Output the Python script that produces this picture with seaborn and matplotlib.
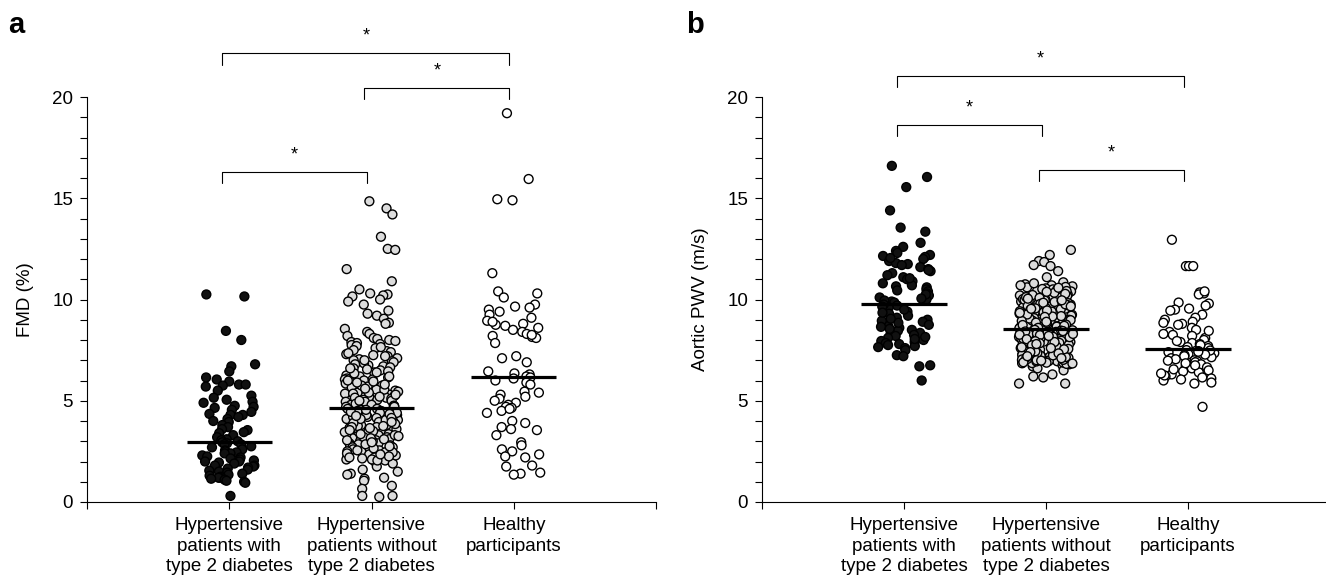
import numpy as np
import pandas as pd
import matplotlib
matplotlib.use("Agg")
import matplotlib.pyplot as plt
from matplotlib.ticker import MultipleLocator, FixedLocator
import seaborn as sns

# --- Data ---
GROUPS = ["Hypertensive\npatients with\ntype 2 diabetes",
          "Hypertensive\npatients without\ntype 2 diabetes",
          "Healthy\nparticipants"]

fmd_diabetes = [
    10.25, 10.15, 8.45, 8.0, 6.8, 6.7, 6.45, 6.15, 6.05, 5.95, 5.8, 5.8, 5.75, 5.7, 5.5,
    5.25, 5.15, 5.05, 4.95, 4.9, 4.75, 4.7, 4.65, 4.55, 4.45, 4.35, 4.3, 4.3, 4.2, 4.1,
    4.0, 3.95, 3.8, 3.7, 3.6, 3.55, 3.45, 3.4, 3.3, 3.2, 3.1, 3.05, 3.0, 2.95,
    2.9, 2.85, 2.85, 2.75, 2.7, 2.6, 2.55, 2.5, 2.45, 2.4, 2.4, 2.3, 2.25, 2.2, 2.15,
    2.1, 2.05, 2.0, 2.0, 1.95, 1.9, 1.8, 1.8, 1.75, 1.7, 1.65, 1.6, 1.55, 1.5, 1.45,
    1.4, 1.35, 1.3, 1.25, 1.2, 1.2, 1.15, 1.1, 1.05, 1.0, 0.95, 0.3]

fmd_no_diabetes = [
    14.85, 14.5, 14.2, 13.1, 12.5, 12.45, 11.5, 10.9, 10.5, 10.3, 10.25, 10.2, 10.15, 10.0,
    9.9, 9.75, 9.45, 9.3, 9.2, 9.05, 8.85, 8.8, 8.55, 8.4, 8.3, 8.2, 8.1, 8.05, 8.0, 7.95,
    7.9, 7.85, 7.8, 7.75, 7.7, 7.6, 7.5, 7.45, 7.4, 7.3, 7.25, 7.2, 7.1, 7.05, 7.0, 6.95,
    6.9, 6.8, 6.75, 6.7, 6.65, 6.6, 6.5, 6.45, 6.4, 6.3, 6.25, 6.2, 6.15, 6.1, 6.05, 6.0,
    5.95, 5.9, 5.85, 5.8, 5.75, 5.7, 5.65, 5.6, 5.55, 5.5, 5.45, 5.4, 5.35, 5.3, 5.25, 5.2,
    5.15, 5.1, 5.05, 5.0, 4.95, 4.9, 4.85, 4.8, 4.75, 4.7,
    7.65, 7.35, 6.85, 6.55, 6.35, 6.05, 5.95, 5.75, 5.55, 5.35, 5.15, 5.05, 4.95, 4.85,
    4.75, 6.2, 6.6, 7.0, 5.9, 5.4, 5.0, 4.8, 4.7, 5.6, 5.2, 6.4, 7.2, 6.0, 5.8, 5.3,
    4.6, 4.55, 4.5, 4.45, 4.4, 4.35, 4.3, 4.25, 4.2, 4.15, 4.1, 4.05, 4.0, 3.95, 3.9, 3.85,
    3.8, 3.75, 3.7, 3.65, 3.6, 3.55, 3.5, 3.45, 3.4, 3.35, 3.3, 3.25, 3.2, 3.15, 3.1, 3.05,
    3.0, 2.95, 2.9, 2.85, 2.8, 2.75, 2.7, 2.65, 2.6, 2.55, 2.5, 2.45, 2.4, 2.35, 2.3, 2.25,
    2.2, 2.15, 2.1, 2.05, 2.0, 1.9, 1.75, 1.6, 1.5, 1.4, 1.35, 1.2, 1.15, 1.05, 0.8, 0.65,
    0.3, 0.25, 0.3,
    4.6, 4.5, 4.4, 4.3, 4.2, 4.1, 4.0, 3.9, 3.8, 3.7, 3.6, 3.5, 3.4, 3.3, 3.2, 3.1, 3.0,
    2.9, 2.8, 2.7, 2.6, 2.5, 2.4, 2.3, 2.2, 2.1, 4.45, 4.25, 4.05, 3.85, 3.65, 3.45, 3.25,
    3.05, 2.85, 2.65, 2.45, 2.25, 2.05, 4.55, 4.35, 4.15, 3.95, 3.75, 3.55, 3.35, 3.15,
    2.95, 2.75, 2.55, 2.35]

fmd_healthy = [
    19.2, 15.95, 14.95, 14.9, 11.3, 10.4, 10.3, 10.1, 9.75, 9.65, 9.5, 9.6, 9.25, 9.1,
    8.95, 8.8, 8.75, 8.7, 8.6, 8.5, 8.4, 8.3, 8.2, 8.15, 8.1, 7.85, 7.2, 7.1, 6.9, 6.45,
    6.35, 6.3, 6.2, 8.9, 8.25, 9.4, 6.15,
    6.1, 6.0, 5.9, 5.8, 5.45, 5.4, 5.3, 5.1, 5.0, 4.9, 4.8, 4.7, 4.65, 4.5, 4.4, 4.0,
    3.7, 3.6, 3.55, 3.3, 2.95, 2.8, 2.6, 2.5, 2.35, 2.25, 2.2, 1.8, 1.75, 1.45, 1.4, 1.35,
    5.2, 4.6, 3.9]

pwv_diabetes = [
    16.6, 16.05, 15.55, 14.4, 13.55, 13.35, 12.8, 12.6, 12.4, 12.3, 12.2, 12.15, 12.1,
    12.0, 11.9, 11.8, 11.75, 11.6, 11.5, 11.4, 11.3, 11.2, 11.1, 11.0, 10.9, 10.8, 10.7,
    10.6, 10.5, 10.4, 10.3, 10.2, 10.1, 10.0, 9.9, 9.85, 11.7, 11.45, 11.05, 10.65, 10.45,
    10.25, 10.05, 9.95, 12.05,
    9.7, 9.6, 9.4, 9.3, 9.2, 9.0, 8.9, 8.8, 8.7, 8.6, 8.5, 8.45, 8.3, 8.2, 8.1, 8.0, 7.9,
    7.8, 7.7, 7.6, 7.5, 7.25, 7.2, 6.75, 6.7, 6.0, 9.75, 9.5, 9.1, 8.95, 8.85, 8.65, 8.55,
    8.35, 8.25, 8.05, 7.95, 7.85, 7.65, 9.65, 9.35, 8.75, 8.15, 7.75, 9.05]

pwv_no_diabetes = [
    12.45, 12.2, 11.9, 11.85, 11.7, 11.65, 11.4, 11.1, 10.85, 10.75, 10.7, 10.65, 10.6,
    10.55, 10.5, 10.45, 10.4, 10.35, 10.3, 10.25, 10.2, 10.15, 10.1, 10.05, 10.0, 9.95,
    9.9, 9.85, 9.8, 9.75, 9.7, 9.65, 9.6, 9.55, 9.5, 9.45, 9.4, 9.35, 9.3, 9.25, 9.2,
    9.15, 9.1, 9.05, 9.0, 8.95, 8.9, 8.85, 8.8, 8.75, 8.7, 8.65, 8.6, 8.55,
    10.8, 10.62, 10.48, 10.33, 10.18, 10.02, 9.92, 9.82, 9.72, 9.62, 9.52, 9.42, 9.32,
    9.22, 9.12, 9.02, 8.92, 8.82, 8.72, 8.62, 8.58, 10.7, 10.52, 10.38, 10.22, 10.08,
    9.98, 9.88, 9.78, 9.68, 9.58, 9.48, 9.38, 9.28, 9.18, 9.08, 8.98, 8.88, 8.78, 8.68,
    8.56, 10.42, 10.12, 9.94, 9.76, 9.56, 9.36, 9.16, 8.96, 8.76, 8.66, 10.28, 9.84, 9.46,
    9.06, 8.86, 10.58, 9.66, 9.26, 8.94, 8.74, 8.64, 9.96, 9.54, 9.14, 8.84, 8.7, 10.04,
    9.34, 8.9, 8.6,
    8.5, 8.45, 8.4, 8.35, 8.3, 8.25, 8.2, 8.15, 8.1, 8.05, 8.0, 7.95, 7.9, 7.85, 7.8, 7.75,
    7.7, 7.65, 7.6, 7.55, 7.5, 7.45, 7.4, 7.35, 7.3, 7.25, 7.2, 7.15, 7.1, 7.05, 7.0, 6.95,
    6.9, 6.85, 6.8, 6.75, 6.7, 6.6, 6.5, 6.3, 6.2, 6.15, 5.85, 5.85,
    8.48, 8.38, 8.28, 8.18, 8.08, 7.98, 7.88, 7.78, 7.68, 7.58, 7.48, 7.38, 7.28, 7.18,
    7.08, 6.98, 6.88, 6.82, 8.42, 8.32, 8.22, 8.12, 8.02, 7.92, 7.82, 7.72, 7.62, 7.52,
    7.42, 7.32, 7.22, 7.12, 7.02, 6.92, 6.86, 8.46, 8.36, 8.26, 8.16, 8.06, 7.96, 7.86,
    7.76, 7.66, 7.56, 7.46, 7.36, 7.26, 7.16, 7.06, 6.96, 6.88, 8.44, 8.24, 8.04, 7.84,
    7.64, 7.44, 7.24, 7.04, 6.84, 8.34, 7.94, 7.54, 7.14, 6.94, 8.14, 7.74, 7.34, 6.9,
    8.4, 7.9, 7.4, 7.0, 8.2, 7.6, 7.2, 6.98, 8.3, 7.8, 7.1]

pwv_healthy = [
    12.95, 11.65, 11.65, 11.65, 10.35, 10.3, 10.25, 10.4, 9.8, 9.85, 9.7, 9.55, 9.5, 9.45,
    9.25, 9.1, 9.0, 8.9, 8.85, 8.8, 8.6, 8.5, 8.4, 8.3, 8.2, 8.1, 8.0, 7.9, 7.85, 7.8,
    7.7, 7.65, 7.6, 8.75, 8.25, 7.95, 7.75, 8.45,
    7.5, 7.45, 7.4, 7.3, 7.25, 7.2, 7.1, 7.0, 6.95, 6.9, 6.8, 6.7, 6.65, 6.6, 6.5, 6.45,
    6.4, 6.3, 6.2, 6.1, 6.05, 6.0, 5.85, 5.9, 4.7, 7.35, 7.15, 6.85, 6.55, 6.25, 7.05,
    6.75, 7.48, 6.35, 7.28, 6.15, 7.42, 6.98]

fmd_medians = [2.95, 4.65, 6.15]
pwv_medians = [9.8, 8.52, 7.55]

# significance brackets: (group i, group j, bar height)
fmd_brackets = [(0, 2, 22.15), (1, 2, 20.45), (0, 1, 16.3)]
pwv_brackets = [(0, 2, 21.05), (0, 1, 18.6), (1, 2, 16.4)]

FILLS = ["#111111", "#dcdcdc", "#ffffff"]


def long_frame(series):
    rows = []
    for name, vals in zip(GROUPS, series):
        rows += [(name, v) for v in vals]
    return pd.DataFrame(rows, columns=["group", "value"])


def draw_panel(ax, df, medians, brackets, ylabel):
    sns.stripplot(data=df, x="group", y="value", hue="group", order=GROUPS,
                  hue_order=GROUPS, palette=FILLS, jitter=0.19, size=6.4,
                  edgecolor="black", linewidth=1.0, legend=False, ax=ax, zorder=2)
    for i, m in enumerate(medians):
        ax.hlines(m, i - 0.3, i + 0.3, color="black", lw=2.3, zorder=3)

    for i, j, h in brackets:
        x1, x2 = i - 0.05, j - 0.03
        ax.plot([x1, x1, x2, x2], [h - 0.55, h, h, h - 0.55], color="black",
                lw=0.8, clip_on=False)
        ax.text((x1 + x2) / 2, h + 0.85, "*", ha="center", va="center",
                fontsize=13, color="black", clip_on=False)

    ax.set_xlim(-1, 3)
    ax.set_ylim(0, 20)
    ax.set_xlabel("")
    ax.set_ylabel(ylabel, fontsize=13.5, labelpad=13, color="black")
    ax.yaxis.set_major_locator(MultipleLocator(5))
    ax.yaxis.set_minor_locator(MultipleLocator(1))
    ax.xaxis.set_minor_locator(FixedLocator([-1, 3]))
    ax.tick_params(axis="both", which="both", direction="out", length=5,
                   width=0.8, labelsize=13.5, pad=5, colors="black")
    ax.tick_params(axis="x", pad=6)
    for lbl in ax.get_xticklabels():
        lbl.set_linespacing(1.25)
    sns.despine(ax=ax)
    for side in ("left", "bottom"):
        ax.spines[side].set_linewidth(0.8)
        ax.spines[side].set_color("black")
    ax.spines["left"].set_bounds(0, 20)


sns.set_style("ticks")
plt.rcParams["font.family"] = ["Liberation Sans", "DejaVu Sans"]
plt.rcParams["text.color"] = "black"

np.random.seed(7)
fig = plt.figure(figsize=(13.26, 5.86), dpi=100)
ax_a = fig.add_axes([87 / 1326, 1 - 502 / 586, 569 / 1326, 405 / 586])
ax_b = fig.add_axes([762 / 1326, 1 - 502 / 586, 568 / 1326, 405 / 586])

draw_panel(ax_a, long_frame([fmd_diabetes, fmd_no_diabetes, fmd_healthy]),
           fmd_medians, fmd_brackets, "FMD (%)")
draw_panel(ax_b, long_frame([pwv_diabetes, pwv_no_diabetes, pwv_healthy]),
           pwv_medians, pwv_brackets, "Aortic PWV (m/s)")

fig.text(8 / 1326, 1 - 33 / 586, "a", fontsize=21, fontweight="bold", va="baseline")
fig.text(686 / 1326, 1 - 33 / 586, "b", fontsize=21, fontweight="bold", va="baseline")

fig.savefig("out.png", dpi=100)
